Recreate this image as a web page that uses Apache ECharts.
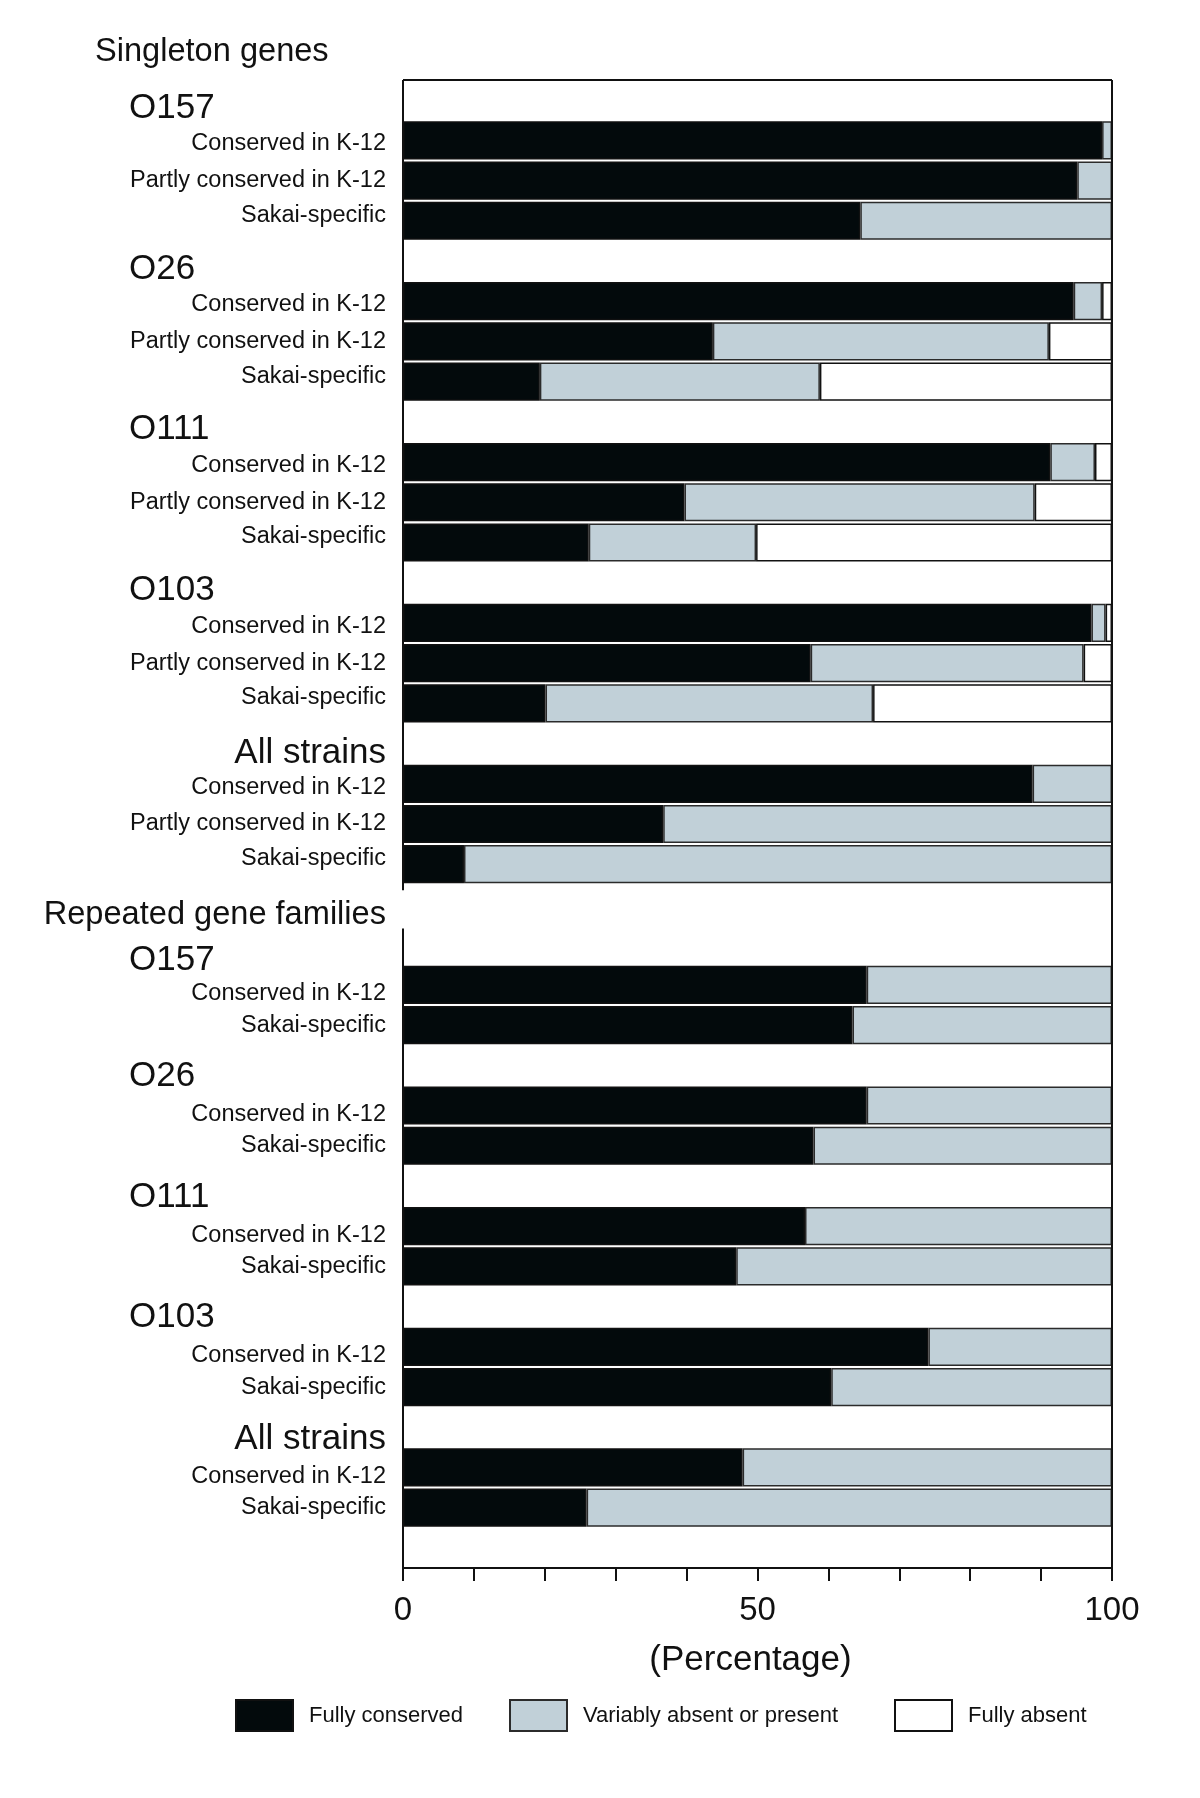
<!DOCTYPE html>
<html>
<head>
<meta charset="utf-8">
<script src="https://cdn.jsdelivr.net/npm/echarts@6/dist/echarts.min.js"></script>
<style>
  html, body { margin: 0; padding: 0; background: #ffffff; }
  #chart { width: 1200px; height: 1798px; }
</style>
</head>
<body>
<div id="chart"></div>
<script>
// ---------------- data ----------------
const groups = ['O157', 'O26', 'O111', 'O103', 'All strains'];
const singletonRows = ['Conserved in K-12', 'Partly conserved in K-12', 'Sakai-specific'];
const repeatedRows = ['Conserved in K-12', 'Sakai-specific'];
const sectionHeaders = ['Singleton genes', 'Repeated gene families'];
const legendNames = ['Fully conserved', 'Variably absent or present', 'Fully absent'];

// singleton genes: per group, rows = Conserved / Partly conserved / Sakai-specific
const singletonFully    = [98.6, 95.1, 64.5,  94.6, 43.7, 19.3,  91.3, 39.7, 26.2,  97.1, 57.5, 20.1,  88.8, 36.7,  8.6];
const singletonVariable = [ 1.4,  4.9, 35.5,   4.0, 47.4, 39.5,   6.3, 49.4, 23.6,   2.0, 38.5, 46.2,  11.2, 63.3, 91.4];
const singletonAbsent   = [ 0,    0,    0,     1.4,  8.9, 41.2,   2.4, 10.9, 50.2,   0.9,  4.0, 33.7,   0,    0,    0  ];

// repeated gene families: per group, rows = Conserved / Sakai-specific
const repeatedFully    = [65.4, 63.4,  65.4, 57.9,  56.7, 47.0,  74.1, 60.4,  47.9, 25.9];
const repeatedVariable = [34.6, 36.6,  34.6, 42.1,  43.3, 53.0,  25.9, 39.6,  52.1, 74.1];

const xMin = 0, xMax = 100, xInterval = 10, xLabelStep = 50;

// ------------- build rows -------------
const categories = [], kinds = [], fully = [], variable = [], absent = [];
function nz(v) { return (v === null || v === 0) ? null : v; }
function pushRow(label, kind, f, v, a) {
  categories.push(label); kinds.push(kind);
  fully.push(nz(f)); variable.push(nz(v)); absent.push(nz(a));
}
const singletonSubKinds = ['sA', 'sB', 'sC'];
const repeatedSubKinds = ['rA', 'rB'];
let k = 0;
groups.forEach(function (g) {
  pushRow(g, g === 'All strains' ? 'grpR' : 'grp', null, null, null);
  singletonRows.forEach(function (r, j) {
    pushRow(r, singletonSubKinds[j], singletonFully[k], singletonVariable[k], singletonAbsent[k]);
    k++;
  });
});
pushRow(sectionHeaders[1], 'hdr', null, null, null);
k = 0;
groups.forEach(function (g, gi) {
  pushRow(g, g === 'All strains' ? 'rgrpR' : (gi === 0 ? 'rgrp0' : 'rgrp'), null, null, null);
  repeatedRows.forEach(function (r, j) {
    pushRow(r, repeatedSubKinds[j], repeatedFully[k], repeatedVariable[k], null);
    k++;
  });
});
pushRow('', 'end', null, null, null);
const headerIndex = kinds.indexOf('hdr');

// ------------- chart -------------
const FONT = "'Liberation Sans', Arial, Helvetica, sans-serif";
const chart = echarts.init(document.getElementById('chart'), null, { renderer: 'canvas' });

const colors = ['#030a0c', '#c1d0d8', '#ffffff'];
const borders = ['#111111', '#2b2b2b', '#111111'];
const seriesData = [fully, variable, absent];

const barSeries = legendNames.map(function (name, i) {
  return {
    name: name,
    type: 'bar',
    stack: 'total',
    barCategoryGap: '5%',
    data: seriesData[i],
    itemStyle: { color: colors[i], borderColor: borders[i], borderWidth: 1.5 },
    emphasis: { disabled: true },
    animation: false
  };
});

const frameSeries = {
  type: 'custom',
  coordinateSystem: 'cartesian2d',
  silent: true,
  z: 10,
  animation: false,
  data: [[0, 0]],
  encode: { x: 0, y: 1 },
  renderItem: function (params, api) {
    const cs = params.coordSys;
    const left = cs.x, right = cs.x + cs.width, top = cs.y, bottom = cs.y + cs.height;
    const band = api.size([0, 1])[1];
    const hc = api.coord([0, headerIndex])[1];
    const gapTop = hc - band / 2 + 6;
    const gapBottom = hc + band / 2 + 4;
    const st = { stroke: '#111', lineWidth: 2 };
    return {
      type: 'group',
      children: [
        { type: 'line', shape: { x1: left, y1: top, x2: right, y2: top }, style: st },
        { type: 'line', shape: { x1: right, y1: top, x2: right, y2: bottom }, style: st },
        { type: 'line', shape: { x1: left, y1: top, x2: left, y2: gapTop }, style: st },
        { type: 'line', shape: { x1: left, y1: gapBottom, x2: left, y2: bottom }, style: st }
      ]
    };
  }
};

function legendAt(name, left) {
  return {
    data: [name],
    left: left,
    top: 1699,
    padding: 0,
    itemWidth: 57,
    itemHeight: 31,
    icon: 'rect',
    selectedMode: false,
    textStyle: { fontFamily: FONT, fontSize: 22, color: '#111', padding: [0, 0, 0, 11] }
  };
}

const SUB = 23.5, GRP = 35, HDR = 32.6;
const option = {
  backgroundColor: '#ffffff',
  animation: false,
  textStyle: { fontFamily: FONT },
  title: {
    text: sectionHeaders[0],
    left: 95,
    top: 36,
    padding: 0,
    textStyle: { fontFamily: FONT, fontSize: HDR, fontWeight: 'normal', color: '#111' }
  },
  legend: [
    legendAt(legendNames[0], 235),
    legendAt(legendNames[1], 509),
    legendAt(legendNames[2], 894)
  ],
  grid: { left: 403, right: 88, top: 80, bottom: 230, containLabel: false },
  xAxis: {
    type: 'value',
    min: xMin,
    max: xMax,
    interval: xInterval,
    name: '(Percentage)',
    nameLocation: 'middle',
    nameGap: 75,
    nameTextStyle: { fontFamily: FONT, fontSize: 35, color: '#111', verticalAlign: 'top', padding: [0, 14, 0, 0] },
    axisLine: { show: true, lineStyle: { color: '#111', width: 2 } },
    axisTick: { show: true, length: 13, lineStyle: { color: '#111', width: 2 } },
    splitLine: { show: false },
    axisLabel: {
      margin: 26,
      fontFamily: FONT,
      fontSize: 33,
      color: '#111',
      formatter: function (v) { return v % xLabelStep === 0 ? String(v) : ''; }
    }
  },
  yAxis: {
    type: 'category',
    inverse: true,
    data: categories,
    axisLine: { show: false },
    axisTick: { show: false },
    splitLine: { show: false },
    axisLabel: {
      interval: 0,
      margin: 17,
      color: '#111',
      fontFamily: FONT,
      formatter: function (value, index) {
        const kd = kinds[index];
        if (kd === 'end') return '';
        return '{' + kd + '|' + value + '}';
      },
      rich: {
        sA: { fontFamily: FONT, fontSize: SUB, color: '#111', padding: [7, 0, 0, 0] },
        sB: { fontFamily: FONT, fontSize: SUB, color: '#111' },
        sC: { fontFamily: FONT, fontSize: SUB, color: '#111', padding: [0, 0, 11, 0] },
        rA: { fontFamily: FONT, fontSize: SUB, color: '#111', padding: [18, 0, 0, 0] },
        rB: { fontFamily: FONT, fontSize: SUB, color: '#111' },
        grp: { fontFamily: FONT, fontSize: GRP, color: '#111', width: 257, align: 'left', padding: [16, 0, 0, 0] },
        grpR: { fontFamily: FONT, fontSize: GRP, color: '#111', padding: [20, 0, 0, 0] },
        rgrp0: { fontFamily: FONT, fontSize: GRP, color: '#111', width: 257, align: 'left', padding: [32, 0, 0, 0] },
        rgrp: { fontFamily: FONT, fontSize: GRP, color: '#111', width: 257, align: 'left', padding: [22, 0, 0, 0] },
        rgrpR: { fontFamily: FONT, fontSize: GRP, color: '#111', padding: [24, 0, 0, 0] },
        hdr: { fontFamily: FONT, fontSize: HDR, color: '#111', padding: [22, 0, 0, 0] }
      }
    }
  },
  series: barSeries.concat([frameSeries])
};

chart.setOption(option);
</script>
</body>
</html>
